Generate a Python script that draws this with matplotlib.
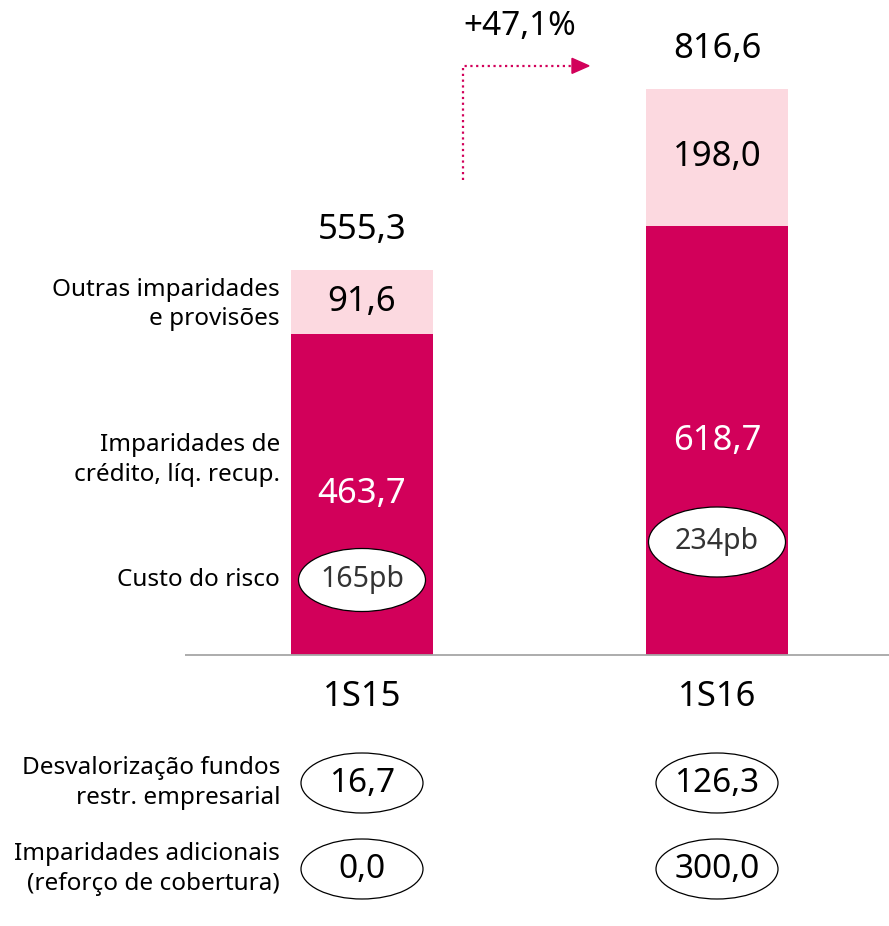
import matplotlib
matplotlib.use('Agg')
import matplotlib.pyplot as plt
from matplotlib.patches import Ellipse, Polygon

# dados
periodos = ['1S15', '1S16']
imp_credito = [463.7, 618.7]
outras_imp = [91.6, 198.0]
totais = [555.3, 816.6]
custo_risco = ['165pb', '234pb']
desval_fundos = [16.7, 126.3]
imp_adicionais = [0.0, 300.0]
variacao = '+47,1%'

rotulos_esq = ['Outras imparidades\ne provisões',
               'Imparidades de\ncrédito, líq. recup.',
               'Custo do risco']
rotulos_baixo = ['Desvalorização fundos\nrestr. empresarial',
                 'Imparidades adicionais\n(reforço de cobertura)']

MAGENTA = '#D2005A'
ROSA = '#FCD9E0'
CINZA = '#A6A6A6'


def fmt(v):
    return f'{v:.1f}'.replace('.', ',')


plt.rcParams['font.family'] = ['Noto Sans', 'DejaVu Sans']

fig = plt.figure(figsize=(8.89, 9.26), dpi=100)
ax = fig.add_axes([0, 0, 1, 1])
ax.axis('off')

# escala: eixo y em valores, base na linha y=655 px
PX_Y = 0.6933          # px por unidade
PX_X = 355.0           # px entre barras
ax.set_ylim((655 - 926) / PX_Y, 655 / PX_Y)
ax.set_xlim(-362 / PX_X, (889 - 362) / PX_X)


def dx(p):
    return p / PX_X


def dy(p):
    return p / PX_Y


xs = list(range(len(periodos)))
largura = dx(142)

ax.bar(xs, imp_credito, width=largura, color=MAGENTA, zorder=2)
ax.bar(xs, outras_imp, bottom=imp_credito, width=largura, color=ROSA, zorder=2)

# linha base
ax.plot([dx(185 - 362), dx(889 - 362)], [0, 0], color=CINZA, lw=1.3,
        solid_capstyle='butt', zorder=3)

FS_VAL = 25
FS_LAB = 17.5
FS_PB = 20.5

# ── valores nas barras ──
for x, a, b, t in zip(xs, imp_credito, outras_imp, totais):
    ax.text(x, a / 2, fmt(a), color='white', fontsize=FS_VAL,
            ha='center', va='center', zorder=4)
    ax.text(x, a + b / 2, fmt(b), color='black', fontsize=FS_VAL,
            ha='center', va='center', zorder=4)
    ax.text(x, t + dy(40), fmt(t), color='black', fontsize=FS_VAL,
            ha='center', va='center', zorder=4)

# ── custo do risco (elipses) ──
pos_cr = [dy(75), dy(113)]
larg_cr = [dx(127), dx(137)]
alt_cr = [dy(63), dy(70)]
for x, txt, y, w, h in zip(xs, custo_risco, pos_cr, larg_cr, alt_cr):
    ax.add_patch(Ellipse((x, y), w, h, facecolor='white', edgecolor='black',
                         lw=0.9, zorder=5))
    ax.text(x, y, txt, color='#333333', fontsize=FS_PB,
            ha='center', va='center', zorder=6)

# ── rótulos à esquerda ──
x_lab = dx(280 - 362)
y_lab = [imp_credito[0] + outras_imp[0] / 2 - dy(3), dy(195), pos_cr[0]]
for txt, y in zip(rotulos_esq, y_lab):
    ax.text(x_lab, y, txt, fontsize=FS_LAB, ha='right', va='center',
            linespacing=1.3)

# ── períodos ──
for x, p in zip(xs, periodos):
    ax.text(x, -dy(42), p, fontsize=FS_VAL, ha='center', va='center')

# ── linhas adicionais abaixo do eixo ──
y_linhas = [-dy(128), -dy(214)]
for serie, y, rot in zip([desval_fundos, imp_adicionais], y_linhas,
                         rotulos_baixo):
    ax.text(x_lab, y, rot, fontsize=FS_LAB, ha='right', va='center',
            linespacing=1.3)
    for x, v in zip(xs, serie):
        ax.add_patch(Ellipse((x, y), dx(122), dy(60), facecolor='white',
                             edgecolor='black', lw=0.9, zorder=5))
        ax.text(x, y, fmt(v), fontsize=FS_VAL - 1, ha='center',
                va='center', zorder=6)

# ── seta de variação ──
x_seta = dx(463 - 362)
y_seta = totais[1] + dy(23)
ax.plot([x_seta, x_seta, dx(574 - 362)],
        [totais[0] + dy(90), y_seta, y_seta],
        color=MAGENTA, lw=1.6, ls=(0, (1, 1.6)), zorder=3)
ax.add_patch(Polygon([[dx(572 - 362), y_seta + dy(7.5)],
                      [dx(572 - 362), y_seta - dy(7.5)],
                      [dx(589 - 362), y_seta]],
                     closed=True, color=MAGENTA, zorder=3))
ax.text(dx(520 - 362), y_seta + dy(39), variacao, fontsize=FS_VAL - 1,
        ha='center', va='center')

fig.savefig('out.png', dpi=100, facecolor='white')
